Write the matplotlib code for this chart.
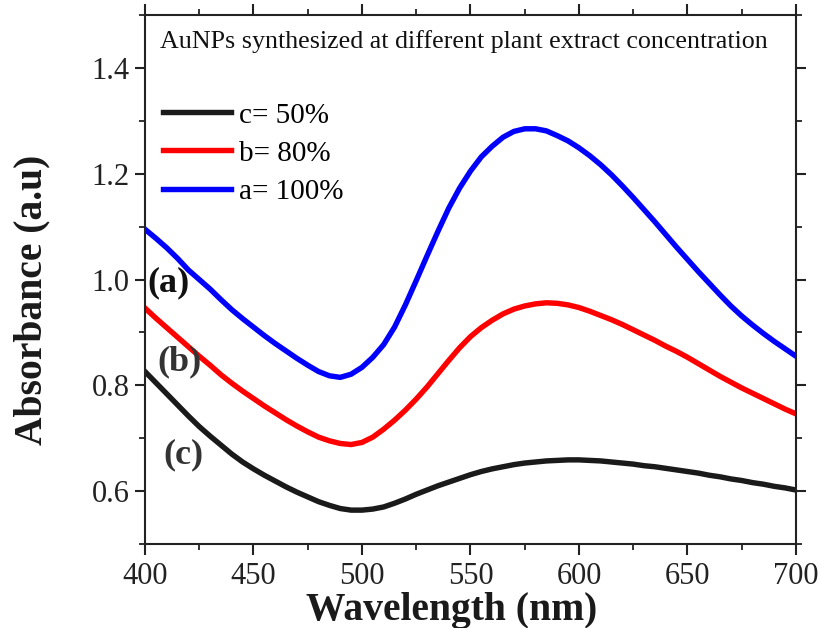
import matplotlib
matplotlib.use("Agg")
import matplotlib.pyplot as plt
from matplotlib.ticker import MultipleLocator

plt.rcParams['font.family'] = ['Liberation Serif', 'DejaVu Serif']

wavelength = list(range(400, 701, 5))
abs_a = [1.095, 1.078, 1.060, 1.040, 1.018, 1.000, 0.982, 0.962, 0.943, 0.926,
         0.910, 0.894, 0.879, 0.865, 0.851, 0.838, 0.826, 0.818, 0.815, 0.821,
         0.834, 0.853, 0.877, 0.910, 0.952, 0.998, 1.045, 1.091, 1.135, 1.173,
         1.205, 1.232, 1.252, 1.269, 1.280, 1.285, 1.285, 1.281, 1.272, 1.262,
         1.249, 1.234, 1.217, 1.198, 1.177, 1.155, 1.132, 1.109, 1.085, 1.061,
         1.038, 1.015, 0.993, 0.971, 0.950, 0.931, 0.914, 0.898, 0.883, 0.869,
         0.855]
abs_b = [0.946, 0.927, 0.909, 0.891, 0.873, 0.855, 0.838, 0.820, 0.804, 0.789,
         0.775, 0.761, 0.748, 0.735, 0.723, 0.712, 0.702, 0.695, 0.690, 0.688,
         0.692, 0.702, 0.717, 0.734, 0.753, 0.774, 0.797, 0.822, 0.847, 0.871,
         0.892, 0.909, 0.923, 0.935, 0.944, 0.950, 0.954, 0.956, 0.955, 0.952,
         0.947, 0.940, 0.932, 0.924, 0.915, 0.905, 0.895, 0.885, 0.874, 0.864,
         0.853, 0.841, 0.829, 0.817, 0.806, 0.795, 0.785, 0.775, 0.765, 0.755,
         0.746]
abs_c = [0.826, 0.805, 0.784, 0.763, 0.742, 0.722, 0.704, 0.687, 0.670, 0.655,
         0.642, 0.630, 0.619, 0.608, 0.598, 0.589, 0.580, 0.573, 0.567, 0.564,
         0.564, 0.566, 0.570, 0.577, 0.585, 0.594, 0.602, 0.610, 0.617, 0.624,
         0.631, 0.637, 0.642, 0.646, 0.650, 0.653, 0.655, 0.657, 0.658, 0.659,
         0.659, 0.658, 0.657, 0.655, 0.653, 0.651, 0.648, 0.646, 0.643, 0.640,
         0.637, 0.634, 0.630, 0.627, 0.623, 0.620, 0.616, 0.613, 0.609, 0.606,
         0.602]
labels = ["c= 50%", "b= 80%", "a= 100%"]
title_text = "AuNPs synthesized at different plant extract concentration"

fig = plt.figure(figsize=(8.21, 6.28), dpi=100)
ax = fig.add_axes([0.1766, 0.1338, 0.7929, 0.8422])

ax.plot(wavelength, abs_c, color='#1a1a1a', lw=3.9, label=labels[0])
ax.plot(wavelength, abs_b, color='#ff0000', lw=3.9, label=labels[1])
ax.plot(wavelength, abs_a, color='#0000ff', lw=3.9, label=labels[2])

ax.set_xlim(400, 700)
ax.set_ylim(0.5, 1.5)
ax.xaxis.set_major_locator(MultipleLocator(50))
ax.xaxis.set_minor_locator(MultipleLocator(25))
ax.yaxis.set_minor_locator(MultipleLocator(0.1))
ax.set_yticks([0.6, 0.8, 1.0, 1.2, 1.4])
ax.set_yticklabels(["0.6", "0.8", "1.0", "1.2", "1.4"])

for s in ax.spines.values():
    s.set_linewidth(1.5)
    s.set_color('#222222')
ax.tick_params(which='major', direction='out', length=7, width=1.5,
               labelsize=22, colors='#222222', pad=4)
ax.tick_params(which='minor', direction='out', length=4, width=1.3, colors='#222222')
ax.tick_params(which='both', top=True, right=True)
ax.tick_params(axis='x', which='major', length=8, pad=5)
ax.tick_params(which='both', labeltop=False, labelright=False)

ax.set_xlabel("Wavelength (nm)", fontsize=28.5, fontweight='bold', color='#1a1a1a')
ax.set_ylabel("Absorbance (a.u)", fontsize=28.5, fontweight='bold', color='#1a1a1a')
ax.xaxis.set_label_coords(0.471, -0.09)
ax.yaxis.set_label_coords(-0.146, 0.461)

ax.text(0.023, 0.972, title_text, transform=ax.transAxes, fontsize=18.7,
        ha='left', va='top', color='#111111')

ax.legend(loc='upper left', bbox_to_anchor=(-0.012, 0.885), frameon=False, fontsize=21,
          handlelength=2.3, handletextpad=0.3, labelspacing=0.4, borderaxespad=0.5)

ax.text(400.9, 0.994, "(a)", fontsize=26, fontweight='bold', va='center', ha='left', color='#111111')
ax.text(405.5, 0.845, "(b)", fontsize=26, fontweight='bold', va='center', ha='left', color='#333333')
ax.text(408.3, 0.669, "(c)", fontsize=26, fontweight='bold', va='center', ha='left', color='#333333')

fig.savefig("out.png", dpi=100)
